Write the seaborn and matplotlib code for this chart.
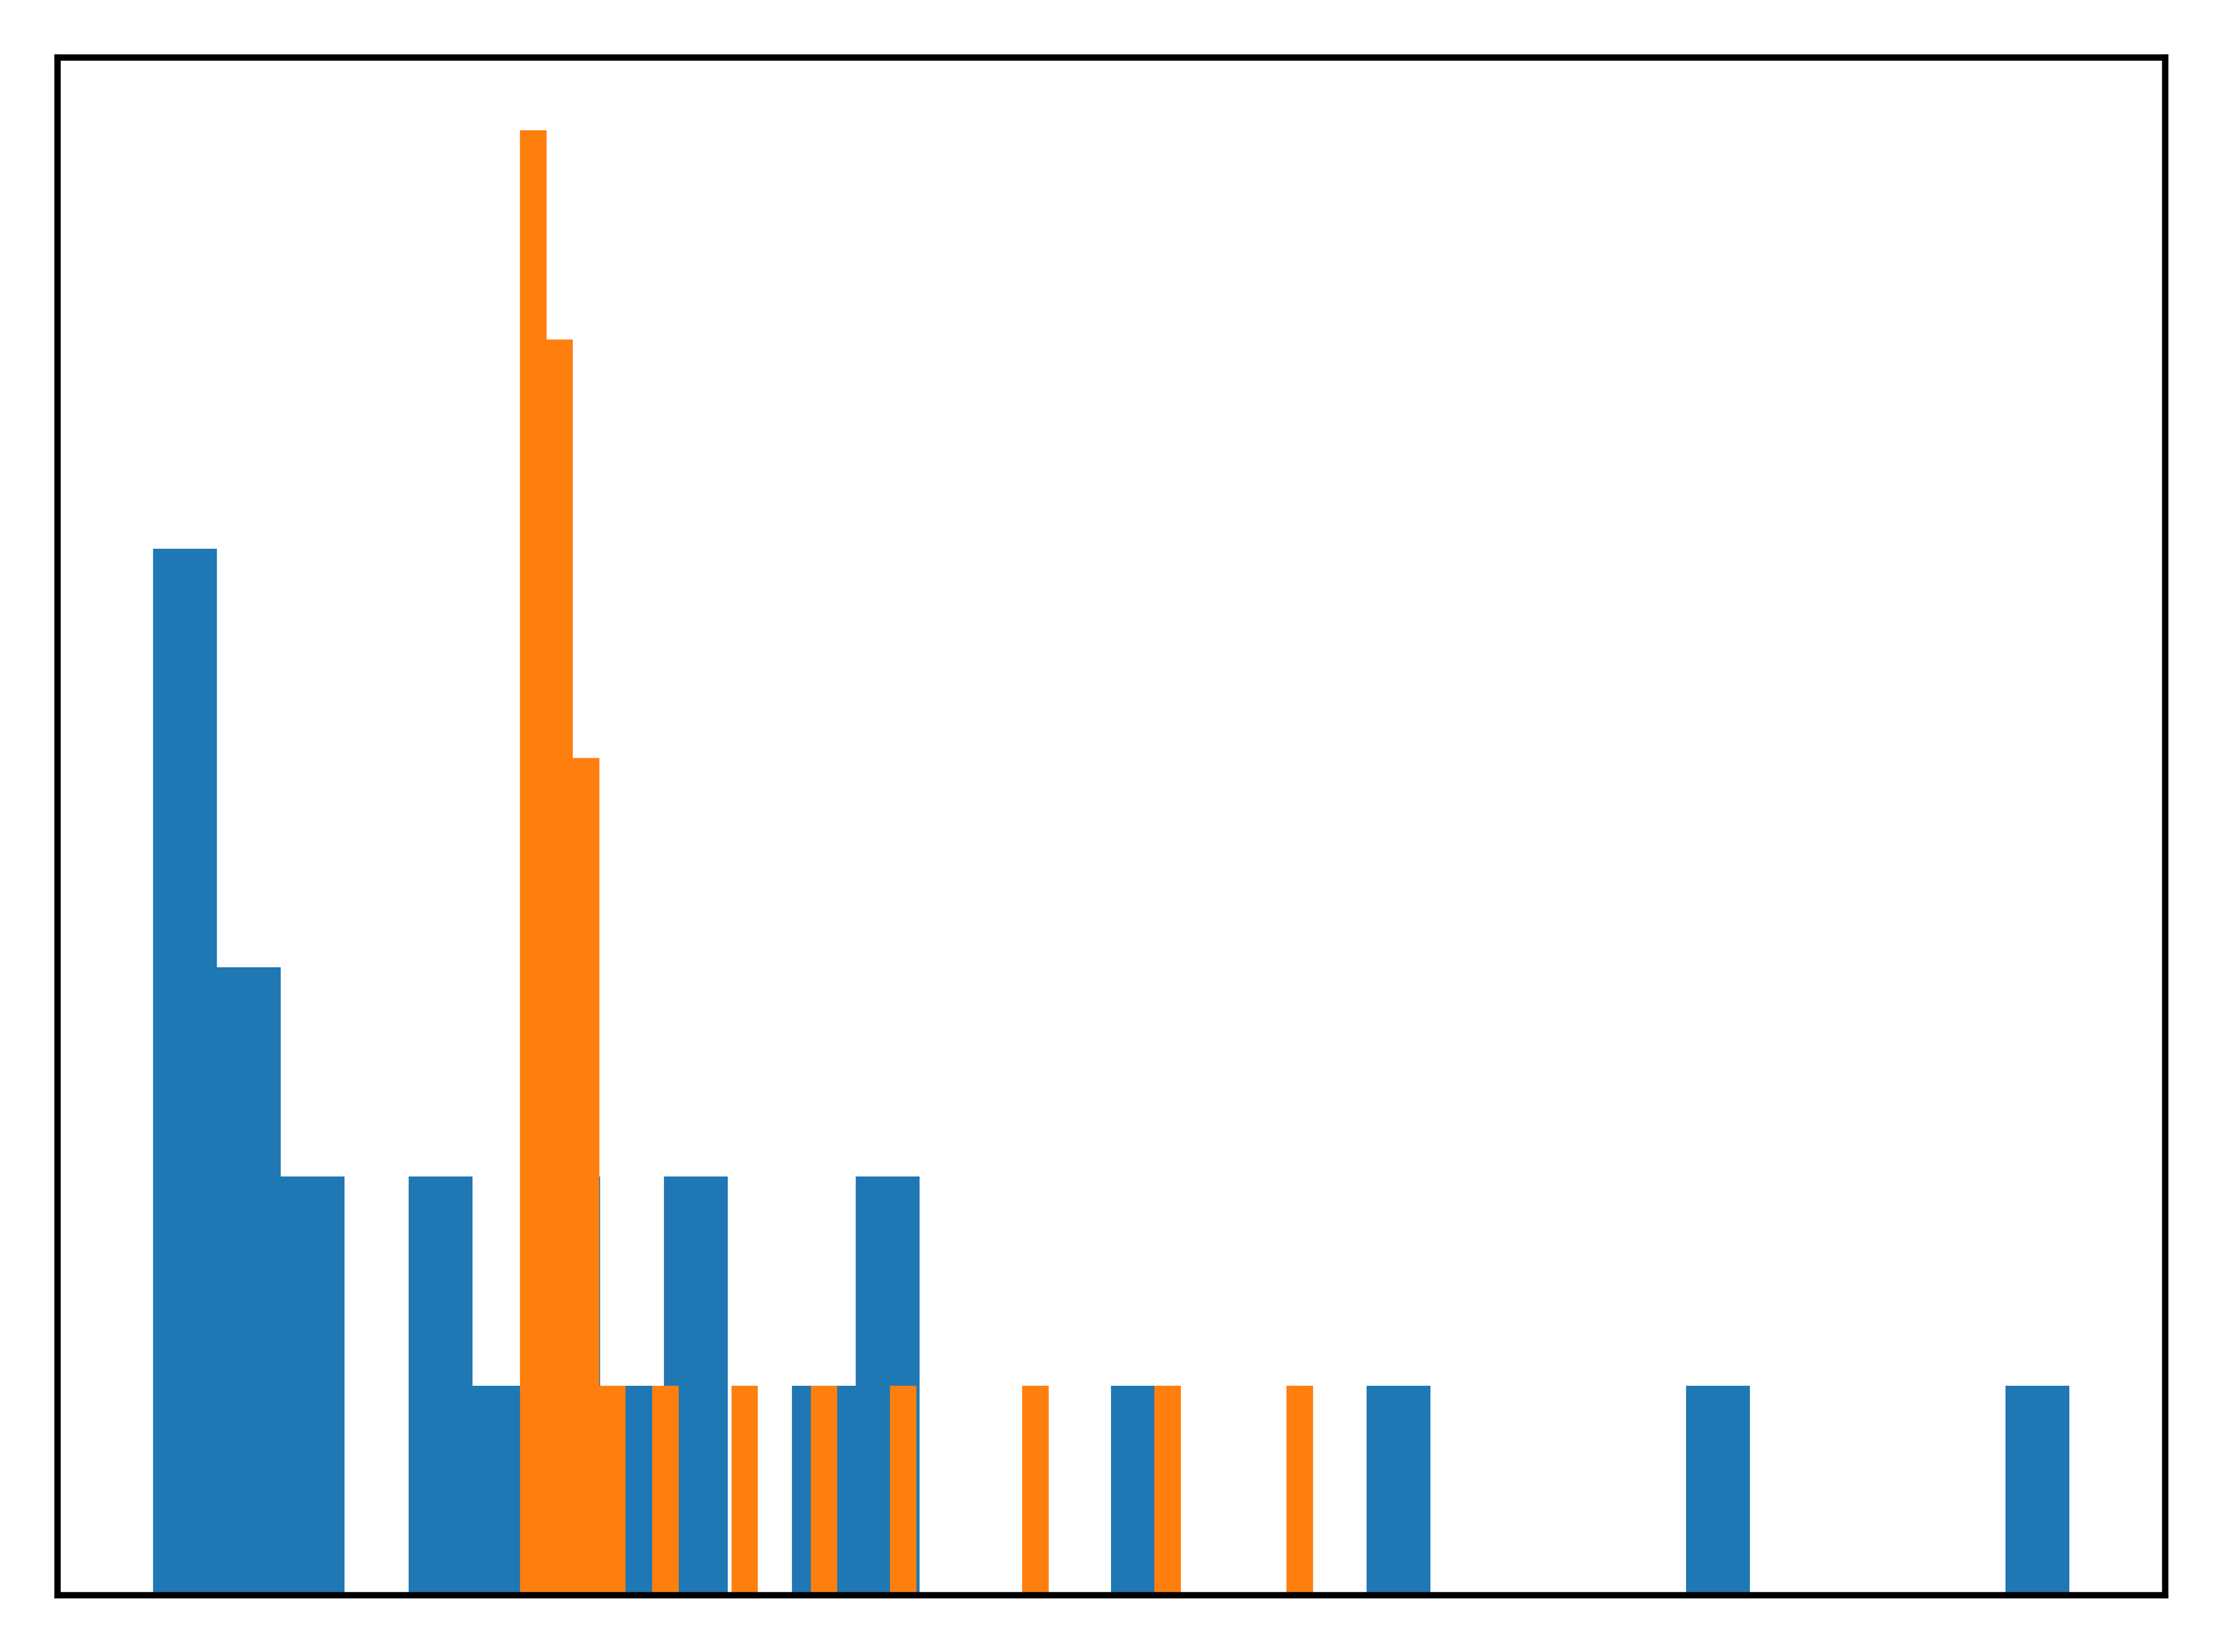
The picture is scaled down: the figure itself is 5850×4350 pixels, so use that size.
import matplotlib
matplotlib.use("Agg")
import matplotlib.pyplot as plt
import seaborn as sns
import numpy as np

# counts per bin, 30 bins each
blue_counts = [5, 3, 2, 0, 2, 1, 2, 1, 2, 0,
               1, 2, 0, 0, 0, 1, 0, 0, 0, 1,
               0, 0, 0, 0, 1, 0, 0, 0, 0, 1]
orange_counts = [7, 6, 4, 1, 0, 1, 0, 0, 1, 0,
                 0, 1, 0, 0, 1, 0, 0, 0, 0, 1,
                 0, 0, 0, 0, 1, 0, 0, 0, 0, 1]
blue_range = (0.0, 30.0)
orange_range = (5.745, 18.16)
n_bins = 30

sns.set_style("white", {"axes.edgecolor": "black"})

fig, ax = plt.subplots(figsize=(19.5, 14.5), dpi=300)
fig.subplots_adjust(left=0.02573, right=0.97444, bottom=0.03437, top=0.9654)


def bin_centers(lo, hi, n):
    edges = np.linspace(lo, hi, n + 1)
    return (edges[:-1] + edges[1:]) / 2


sns.histplot(x=bin_centers(*blue_range, n_bins), weights=blue_counts,
             bins=n_bins, binrange=blue_range, color="#1f77b4",
             alpha=1, linewidth=0, ax=ax)
sns.histplot(x=bin_centers(*orange_range, n_bins), weights=orange_counts,
             bins=n_bins, binrange=orange_range, color="#ff7f0e",
             alpha=1, linewidth=0, ax=ax)

ax.set_xticks([])
ax.set_yticks([])
ax.set_xlabel("")
ax.set_ylabel("")
for s in ax.spines.values():
    s.set_linewidth(4.0)
    s.set_color("black")

fig.savefig("out.png", dpi=300)
